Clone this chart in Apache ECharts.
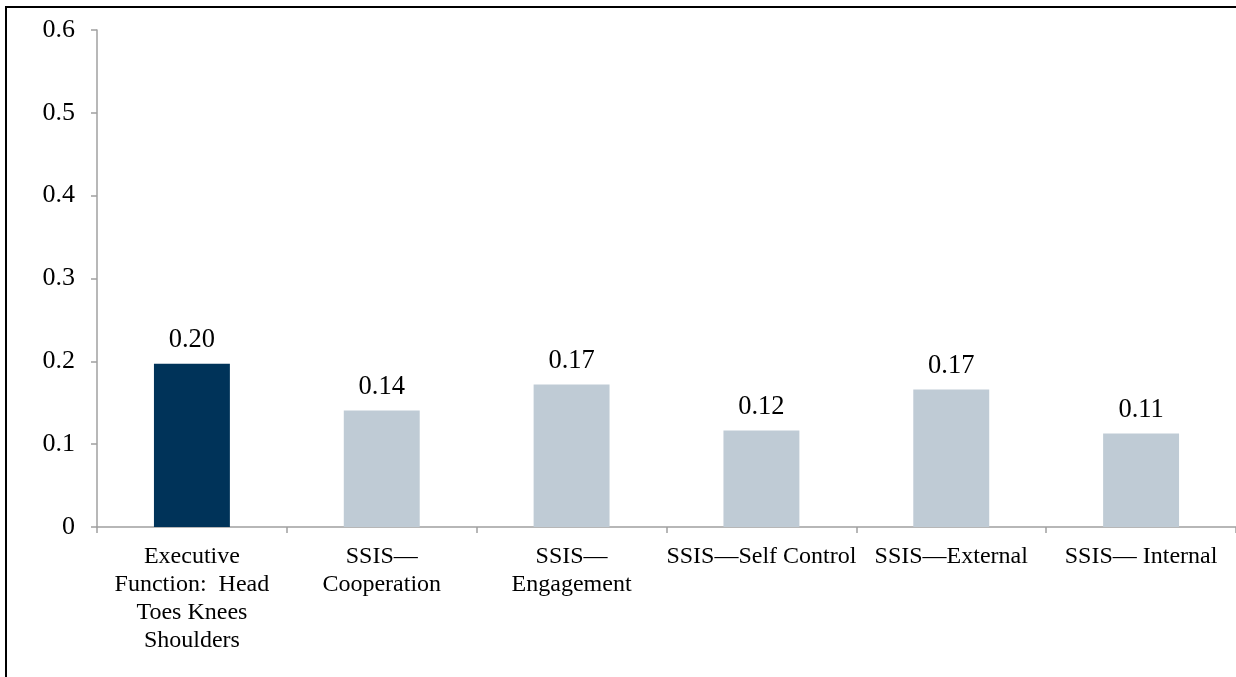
<!DOCTYPE html>
<html>
<head>
<meta charset="utf-8">
<script src="https://cdn.jsdelivr.net/npm/echarts@6/dist/echarts.min.js"></script>
<style>
html,body{margin:0;padding:0;background:#fff;}
#chart{width:1236px;height:677px;}
</style>
</head>
<body>
<div id="chart"></div>
<script>
const categories = [
  "Executive\nFunction:  Head\nToes Knees\nShoulders",
  "SSIS—\nCooperation",
  "SSIS—\nEngagement",
  "SSIS—Self Control",
  "SSIS—External",
  "SSIS— Internal"
];
const values = [0.197, 0.1405, 0.172, 0.1165, 0.166, 0.113];
const valueLabels = ["0.20", "0.14", "0.17", "0.12", "0.17", "0.11"];
const highlightIndex = 0;

const FONT = "'Liberation Serif', 'Times New Roman', serif";
const chart = echarts.init(document.getElementById('chart'), null, {renderer: 'canvas'});
chart.setOption({
  backgroundColor: '#fff',
  animation: false,
  graphic: [{
    type: 'polyline',
    shape: {points: [[6, 700], [6, 7], [1300, 7]]},
    style: {fill: 'none', stroke: '#000', lineWidth: 2},
    silent: true
  }],
  grid: {left: 97, top: 30, right: -3, bottom: 150, containLabel: false},
  xAxis: {
    type: 'category',
    data: categories,
    axisLine: {lineStyle: {color: '#A0A0A0', width: 1.5}},
    axisTick: {show: true, length: 6, lineStyle: {color: '#A0A0A0', width: 1.5}},
    axisLabel: {
      interval: 0, margin: 16, color: '#000', fontFamily: FONT, fontSize: 24,
      lineHeight: 27.8, align: 'center'
    }
  },
  yAxis: {
    type: 'value',
    min: 0, max: 0.6, interval: 0.1,
    splitLine: {show: false},
    axisLine: {show: true, lineStyle: {color: '#A0A0A0', width: 1.5}},
    axisTick: {show: true, length: 6, lineStyle: {color: '#A0A0A0', width: 1.5}},
    axisLabel: {margin: 22, color: '#000', fontFamily: FONT, fontSize: 26}
  },
  series: [{
    type: 'bar',
    barWidth: '40%',
    data: values.map((v, i) => ({
      value: v,
      itemStyle: {color: i === highlightIndex ? '#003359' : '#BFCBD5'}
    })),
    label: {
      show: true, position: 'top', distance: 10,
      color: '#000', fontFamily: FONT, fontSize: 26.5,
      formatter: p => valueLabels[p.dataIndex]
    }
  }]
});
</script>
</body>
</html>
